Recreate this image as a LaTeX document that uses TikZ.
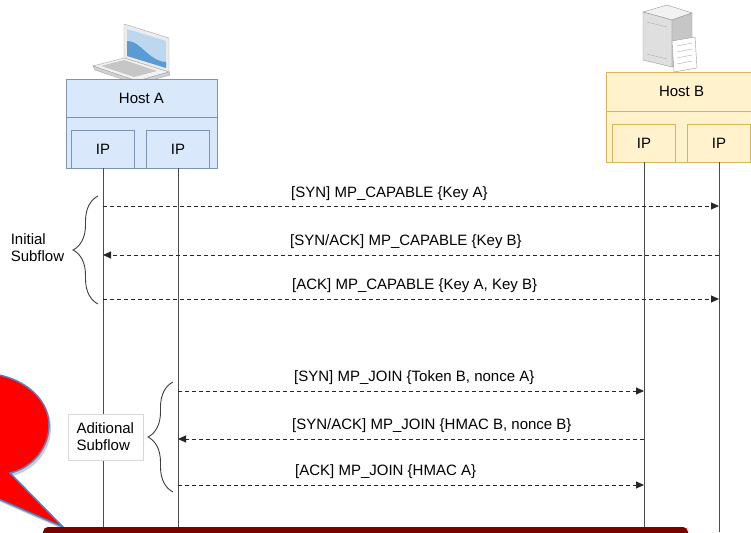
\documentclass[tikz,border=0pt]{standalone}
\usepackage{fontspec}
\setmainfont{Liberation Sans}
\usepackage{xcolor}
\usepackage{tikz}
\usetikzlibrary{positioning,arrows.meta,decorations.pathreplacing,shadows}

\definecolor{hostAfill}{HTML}{DAE8FC}
\definecolor{hostAline}{HTML}{7D93B5}
\definecolor{hostBfill}{HTML}{FFF2CC}
\definecolor{hostBline}{HTML}{D6B656}
\definecolor{calloutred}{HTML}{FF0000}
\definecolor{calloutblue}{HTML}{4F81BD}
\definecolor{bannerred}{HTML}{7B0000}
\definecolor{screenblue}{HTML}{5B9BD5}
\definecolor{screenlight}{HTML}{BCD7EE}

\begin{document}
\begin{tikzpicture}[x=1pt, y=-1pt,
		every node/.style={font=\fontsize{15}{17}\selectfont},
		hostbox/.style={draw=#1line, fill=#1fill, minimum width=151pt, minimum height=90pt, inner sep=0},
		ipbox/.style={draw=#1line, minimum width=63pt, minimum height=38pt, inner sep=0},
		life/.style={draw=black!70, line width=1pt},
		msg/.style={draw=black!85, line width=0.9pt, dash pattern=on 4pt off 3pt, -{Triangle[length=8pt,width=7pt]}},
		msglabel/.style={anchor=base west, inner sep=0},
		bracket/.style={draw=black!75, line width=0.9pt, decorate, decoration={brace, amplitude=25pt}}]
			\useasboundingbox (0,0) rectangle (751,532);
			\clip (0,0) rectangle (751,532);

			% laptop
			\draw[gray!70, fill=gray!15] (124,24) -- (169,38) -- (169,72) -- (124,58) -- cycle;
			\fill[screenlight] (127,29) -- (166,41) -- (166,68) -- (127,56) -- cycle;
			\fill[screenblue] (127,41) .. controls (140,40) and (148,61) .. (166,62) -- (166,68) -- (127,56) -- cycle;
			\draw[gray!70, fill=gray!10] (93,66) -- (124,58) -- (169,72) -- (137,81) -- cycle;
			\draw[gray!70, fill=gray!35] (93,66) -- (95,70) -- (137,84) -- (170,75) -- (169,72) -- (137,81) -- cycle;
			\fill[gray!45] (101,66) -- (124,60) -- (157,71) -- (134,77) -- cycle;

			% server
			\draw[gray!80, fill=gray!10] (643,12) -- (667,5) -- (692,13) -- (672,20) -- cycle;
			\draw[gray!80, fill=gray!25] (643,12) -- (672,20) -- (672,67) -- (643,60) -- cycle;
			\draw[gray!80, fill=gray!45] (672,20) -- (692,13) -- (692,60) -- (672,67) -- cycle;
			\draw[gray!60] (647,22) -- (667,27);
			\draw[gray!60] (647,54) -- (667,59);
			\draw[gray!80, fill=white] (672,41) -- (695,37) -- (697,68) -- (674,72) -- cycle;
			\foreach \y in {46,52,58,64}
				\draw[gray!60] (677,\y) -- (692,\y-3);

			% hosts
			\node[hostbox=hostA, minimum height=89pt] (hostA) at (141.5,123.5) {};
			\draw[hostAline] (hostA.west |- 0,117) -- (hostA.east |- 0,117);
			\node (hostAname) at (141.5,98) {Host A};
			\node[ipbox=hostA] (ipA1) at (103,149) {IP};
			\node[ipbox=hostA] (ipA2) at (178,149) {IP};

			\node[hostbox=hostB] (hostB) at (681.5,117) {};
			\draw[hostBline] (hostB.west |- 0,111) -- (hostB.east |- 0,111);
			\node (hostBname) at (681.5,91) {Host B};
			\node[ipbox=hostB] (ipB1) at (644,143) {IP};
			\node[ipbox=hostB] (ipB2) at (719,143) {IP};

			% lifelines
			\draw[life] (ipA1.south) -- (ipA1.south |- 0,532);
			\draw[life] (ipA2.south) -- (ipA2.south |- 0,532);
			\draw[life] (ipB1.south) -- (ipB1.south |- 0,532);
			\draw[life] (ipB2.south) -- (ipB2.south |- 0,532);

			% initial subflow
			\draw[msg] (ipA1.south |- 0,206) -- (ipB2.south |- 0,206);
			\node[msglabel] (m1) at (291,197) {[SYN] MP\_CAPABLE \{Key A\}};
			\draw[msg] (ipB2.south |- 0,255) -- (ipA1.south |- 0,255);
			\node[msglabel] (m2) at (290,245) {[SYN/ACK] MP\_CAPABLE \{Key B\}};
			\draw[msg] (ipA1.south |- 0,299) -- (ipB2.south |- 0,299);
			\node[msglabel] (m3) at (292,289) {[ACK] MP\_CAPABLE \{Key A, Key B\}};

			% additional subflow
			\draw[msg] (ipA2.south |- 0,391) -- (ipB1.south |- 0,391);
			\node[msglabel] (m4) at (294,381) {[SYN] MP\_JOIN \{Token B, nonce A\}};
			\draw[msg] (ipB1.south |- 0,439) -- (ipA2.south |- 0,439);
			\node[msglabel] (m5) at (292,429) {[SYN/ACK] MP\_JOIN \{HMAC B, nonce B\}};
			\draw[msg] (ipA2.south |- 0,485) -- (ipB1.south |- 0,485);
			\node[msglabel] (m6) at (295,475) {[ACK] MP\_JOIN \{HMAC A\}};

			% braces
			\draw[bracket] (98,304) -- (98,196);
			\coordinate (initTip) at (73,248);
			\node[left=10pt of initTip, text width=52pt, align=left, inner sep=0] (initLbl) {Initial\\Subflow};

			\draw[bracket] (173,492) -- (173,382);
			\coordinate (addTip) at (149,437);
			\node[left=6pt of addTip, draw=black!15, fill=white, align=left, minimum width=75pt, minimum height=46pt, inner sep=0] (addLbl) {Aditional\\Subflow};

			% callout and banner
			\path[draw=calloutblue, line width=1.5pt, fill=calloutred,
				drop shadow={shadow xshift=2pt, shadow yshift=-3pt, opacity=0.4}]
				(-20,373) .. controls (18,373) and (49,396) .. (49,425)
				.. controls (49,448) and (32,468) .. (10,473) -- (63,527) -- (-20,491) -- cycle;
			\fill[bannerred, rounded corners=5pt] (43,527) rectangle (688,560);
		\end{tikzpicture}
\end{document}
